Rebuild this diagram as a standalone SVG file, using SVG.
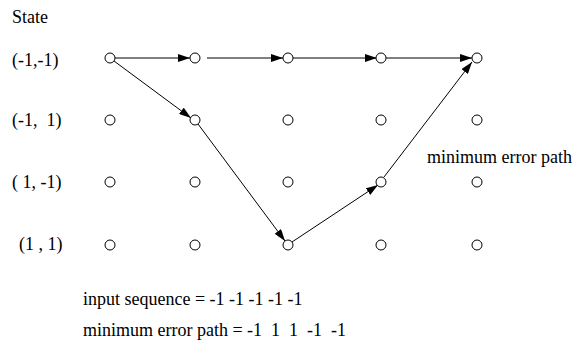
<svg xmlns="http://www.w3.org/2000/svg" width="579" height="344" viewBox="0 0 579 344">
<style>
.t{font-family:'Liberation Serif','DejaVu Serif',serif;font-size:18px;fill:#000}
.n{fill:#fff;stroke:#000;stroke-width:1}
.e{stroke:#000;stroke-width:1;fill:none;marker-end:url(#ah)}
</style>
<defs>
<marker id="ah" viewBox="0 0 12 8" refX="12" refY="4" markerWidth="12" markerHeight="8" markerUnits="userSpaceOnUse" orient="auto">
<path d="M0,0 L12,4 L0,8 Z" fill="#000"/>
</marker>
</defs>
<rect width="579" height="344" fill="#fff"/>
<g id="labels">
<text class="t" x="12" y="23">State</text>
<text class="t" x="12" y="66">(-1,-1)</text>
<text class="t" x="12" y="126" xml:space="preserve">(-1,  1)</text>
<text class="t" x="12" y="188">( 1, -1)</text>
<text class="t" x="19" y="250">(1 , 1)</text>
<text class="t" x="427" y="163">minimum error path</text>
<text class="t" x="83" y="305">input sequence = -1 -1 -1 -1 -1</text>
<text class="t" x="83" y="336" xml:space="preserve">minimum error path = -1  1  1  -1  -1</text>
</g>
<g id="connectors">
<line class="e" x1="115" y1="58" x2="190" y2="58"/>
<line class="e" x1="207" y1="58" x2="283" y2="58"/>
<line class="e" x1="293" y1="58" x2="377" y2="58"/>
<line class="e" x1="386" y1="58" x2="472" y2="58"/>
<line class="e" x1="114" y1="61" x2="191" y2="118"/>
<line class="e" x1="198" y1="124" x2="285" y2="241"/>
<line class="e" x1="292" y1="242" x2="378" y2="185"/>
<line class="e" x1="384" y1="177" x2="472" y2="62"/>
</g>
<g id="nodes">
<circle id="n11" class="n" cx="110" cy="58" r="5"/>
<circle id="n12" class="n" cx="195" cy="58" r="5"/>
<circle id="n13" class="n" cx="288" cy="58" r="5"/>
<circle id="n14" class="n" cx="381" cy="58" r="5"/>
<circle id="n15" class="n" cx="477" cy="58" r="5"/>
<circle id="n21" class="n" cx="110" cy="120" r="5"/>
<circle id="n22" class="n" cx="195" cy="120" r="5"/>
<circle id="n23" class="n" cx="288" cy="120" r="5"/>
<circle id="n24" class="n" cx="381" cy="120" r="5"/>
<circle id="n25" class="n" cx="477" cy="120" r="5"/>
<circle id="n31" class="n" cx="110" cy="182" r="5"/>
<circle id="n32" class="n" cx="195" cy="182" r="5"/>
<circle id="n33" class="n" cx="288" cy="182" r="5"/>
<circle id="n34" class="n" cx="381" cy="182" r="5"/>
<circle id="n35" class="n" cx="477" cy="182" r="5"/>
<circle id="n41" class="n" cx="110" cy="245" r="5"/>
<circle id="n42" class="n" cx="195" cy="245" r="5"/>
<circle id="n43" class="n" cx="288" cy="245" r="5"/>
<circle id="n44" class="n" cx="381" cy="245" r="5"/>
<circle id="n45" class="n" cx="477" cy="245" r="5"/>
</g>
</svg>
